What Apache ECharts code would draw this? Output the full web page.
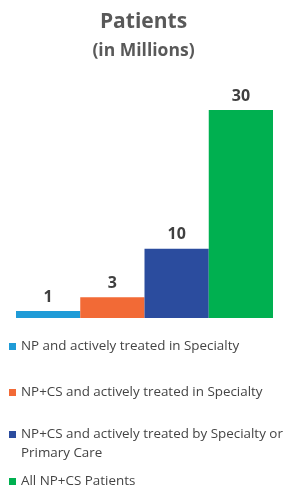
<!DOCTYPE html>
<html>
<head>
<meta charset="utf-8">
<script src="https://cdn.jsdelivr.net/npm/echarts@6/dist/echarts.min.js"></script>
<style>
  html, body { margin: 0; padding: 0; background: #fff; }
  #chart { width: 287px; height: 490px; }
</style>
</head>
<body>
<div id="chart"></div>
<script>
var categories = ['NP', 'NP+CS Specialty', 'NP+CS Specialty or PC', 'All NP+CS'];
var seriesNames = [
  'NP and actively treated in Specialty',
  'NP+CS and actively treated in Specialty',
  'NP+CS and actively treated by Specialty or\nPrimary Care',
  'All NP+CS Patients'
];
var values = [1, 3, 10, 30];
var colors = ['#1f9bd7', '#f26a36', '#2b4c9e', '#00b050'];
var legendTops = [337, 383, 406, 472];

var font = '"Open Sans", sans-serif';

// one series per bar so each gets its own legend entry
var series = seriesNames.map(function (name, i) {
  var d = categories.map(function (c, j) { return j === i ? values[i] : '-'; });
  return {
    type: 'bar',
    name: name,
    stack: 'total',
    data: d,
    barCategoryGap: 0,
    barWidth: '100%',
    itemStyle: { color: colors[i] },
    label: {
      show: true,
      position: 'top',
      distance: 6,
      fontFamily: font,
      fontWeight: 'bold',
      fontSize: 16,
      color: '#404040'
    }
  };
});

var legends = seriesNames.map(function (name, i) {
  return {
    data: [name],
    orient: 'vertical',
    left: 9,
    top: legendTops[i],
    padding: 0,
    icon: 'rect',
    itemWidth: 7,
    itemHeight: 7,
    itemGap: 0,
    selectedMode: false,
    // empty first line keeps the marker level with the first real line
    formatter: function (n) { return n.indexOf('\n') >= 0 ? '\n' + n : n; },
    textStyle: {
      fontFamily: font,
      fontSize: 13.4,
      color: '#444',
      lineHeight: 19
    }
  };
});

var chart = echarts.init(document.getElementById('chart'));
chart.setOption({
  animation: false,
  title: {
    text: 'Patients',
    subtext: '(in Millions)',
    left: 'center',
    top: 7,
    itemGap: 9,
    textStyle: { fontFamily: font, fontWeight: 'bold', fontSize: 21, color: '#595959' },
    subtextStyle: { fontFamily: font, fontWeight: 'bold', fontSize: 17.5, color: '#595959' }
  },
  legend: legends,
  grid: { left: 16, right: 14, top: 110, bottom: 172 },
  xAxis: {
    type: 'category',
    data: categories,
    show: false
  },
  yAxis: {
    type: 'value',
    min: 0,
    max: 30,
    show: false
  },
  series: series
});
</script>
</body>
</html>
